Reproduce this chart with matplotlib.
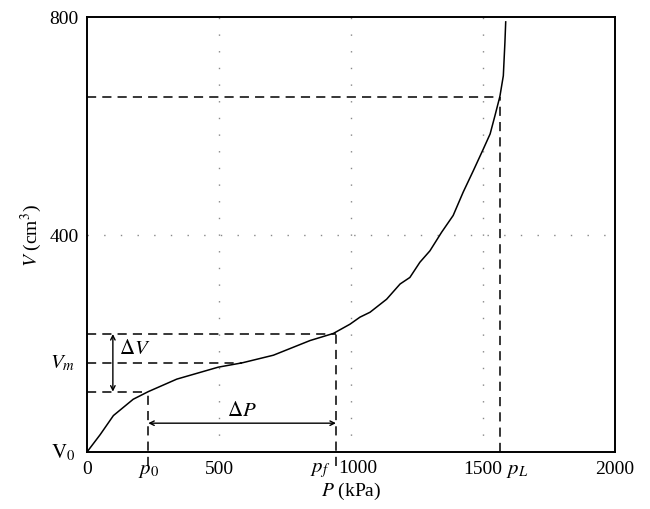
import matplotlib
matplotlib.use("Agg")
import matplotlib.pyplot as plt

plt.rcParams['font.family'] = ['Liberation Serif', 'DejaVu Serif']
plt.rcParams['mathtext.fontset'] = 'stix'

# Pressuremeter curve (P in kPa, V in cm^3)
pressure = [0, 50, 100, 175, 232, 340, 497, 588, 706, 845, 933, 996, 1034, 1072, 1135,
            1186, 1223, 1261, 1299, 1343, 1387, 1425, 1463, 1501, 1527, 1545, 1564,
            1577, 1583, 1586]
volume = [0, 32, 67, 97, 111, 134, 156, 164, 178, 205, 218, 235, 248, 257, 281,
          309, 321, 349, 370, 404, 435, 478, 517, 557, 585, 618, 654,
          692, 753, 791]

p0, pf, pL = 232, 943, 1564
v0, vm, vf, vL = 111, 164, 217, 653
vm_end = 588

xticks = [0, 500, 1000, 1500, 2000]
yticks = [400, 800]

fig = plt.figure(figsize=(6.5, 5.1), dpi=100)
ax = fig.add_axes([87/650, 57/510, 528/650, 435/510])
ax.set_xlim(0, 2000)
ax.set_ylim(0, 800)

# grid
for x in [500, 1000, 1500]:
    ax.axvline(x, color='#888888', lw=1.0, ls=(0, (1, 11)), zorder=1)
ax.axhline(400, color='#888888', lw=1.0, ls=(0, (1, 11)), zorder=1)

dash = dict(color='black', lw=1.1, ls=(0, (6, 4)), zorder=2)
ax.hlines(vL, 0, pL, **dash)
ax.vlines(pL, 0, vL, **dash)
ax.hlines(vf, 0, pf, **dash)
ax.vlines(pf, -25, vf, clip_on=False, **dash)
ax.hlines(vm, 0, vm_end, **dash)
ax.hlines(v0, 0, p0, **dash)
ax.vlines(p0, -25, v0, clip_on=False, **dash)

ax.plot(pressure, volume, color='black', lw=1.1, zorder=3)

# arrows
ax.annotate('', xy=(98, v0), xytext=(98, vf),
            arrowprops=dict(arrowstyle='<->', lw=1.0, color='black',
                            shrinkA=0, shrinkB=0, mutation_scale=8))
ax.annotate('', xy=(p0, 53), xytext=(pf, 53),
            arrowprops=dict(arrowstyle='<->', lw=1.0, color='black',
                            shrinkA=0, shrinkB=0, mutation_scale=8))
ax.text(120, 190, r'$\Delta V$', fontsize=15, ha='left', va='center')
ax.text((p0 + pf) / 2, 77, r'$\Delta P$', fontsize=15, ha='center', va='center')

for s in ax.spines.values():
    s.set_linewidth(1.4)

ax.set_xticks(xticks)
ax.set_xticklabels(['0', '500', '', '1500', '2000'], fontsize=14)
ax.set_yticks(yticks)
ax.set_yticklabels(['400', '800'], fontsize=14)
ax.tick_params(length=0, pad=6)

# extra labels
ax.text(1026, -12, '1000', fontsize=14, ha='center', va='top')
ax.text(p0, -14, r'$p_0$', fontsize=15, ha='center', va='top')
ax.text(885, -14, r'$p_f$', fontsize=15, ha='center', va='top')
ax.text(1629, -14, r'$p_L$', fontsize=15, ha='center', va='top')
ax.text(-45, vm, r'$V_m$', fontsize=15, ha='right', va='center')
ax.text(-45, 0, r'$\mathrm{V}_0$', fontsize=15, ha='right', va='center')

ax.set_xlabel(r'$P$ (kPa)', fontsize=14, labelpad=2)
ax.set_ylabel(r'$V$ (cm$^3$)', fontsize=14, labelpad=4)

fig.savefig('out.png', dpi=100)
